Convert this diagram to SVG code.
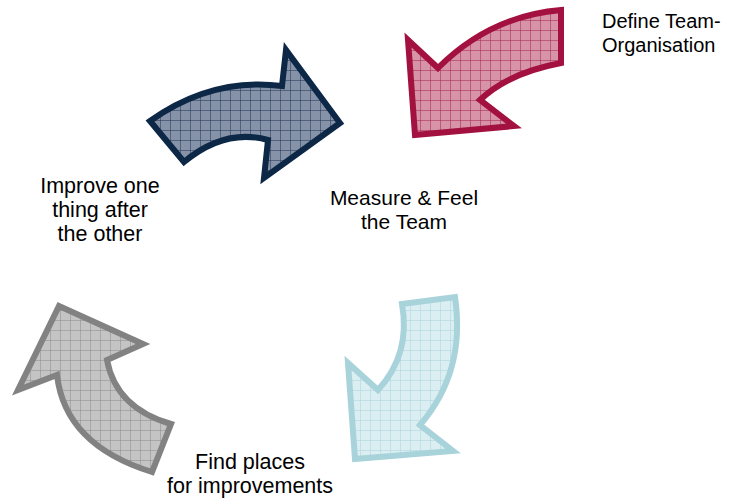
<svg xmlns="http://www.w3.org/2000/svg" width="731" height="502" viewBox="0 0 731 502">
<style>
.lbl{font-family:"Liberation Sans",Arial,sans-serif;font-size:21px;fill:#000}
.ar{stroke-width:6;stroke-linejoin:miter;stroke-miterlimit:10}
</style>
<defs>
<pattern id="pNavy" width="10" height="10" patternUnits="userSpaceOnUse">
<rect width="10" height="10" fill="#8592a7"/>
<path d="M0,0H10M0,0V10" stroke="#1f3352" stroke-width="1"/>
</pattern>
<pattern id="pRed" width="10" height="10" patternUnits="userSpaceOnUse">
<rect width="10" height="10" fill="#d793a8"/>
<path d="M0,0H10M0,0V10" stroke="#a3224f" stroke-width="1"/>
</pattern>
<pattern id="pCyan" width="10" height="10" patternUnits="userSpaceOnUse">
<rect width="10" height="10" fill="#dbeef2"/>
<path d="M0,0H10M0,0V10" stroke="#a9d5dd" stroke-width="1"/>
</pattern>
<pattern id="pGray" width="10" height="10" patternUnits="userSpaceOnUse">
<rect width="10" height="10" fill="#c4c4c4"/>
<path d="M0,0H10M0,0V10" stroke="#8a8a8a" stroke-width="1"/>
</pattern>
</defs>
<rect width="731" height="502" fill="#fff"/>
<g id="connectors">
<path id="arrow-navy" class="ar" fill="url(#pNavy)" stroke="#0d2747" d="M150,121 Q212,77 282,86 L286,50 L340,123 L264,178 L268,140 Q225,128 184,162 Z"/>
<path id="arrow-red" class="ar" fill="url(#pRed)" stroke="#a2113f" d="M561,10 L561,63 Q508,73 480,100 L514,126 L415,135 L408,40 L438,68 Q490,16 561,10 Z"/>
<path id="arrow-cyan" class="ar" fill="url(#pCyan)" stroke="#a8d3db" d="M402,304 L455,297 Q466,372 420,425 L453,451 L355,459 L348,363 L378,390 Q411,354 402,304 Z"/>
<path id="arrow-gray" class="ar" fill="url(#pGray)" stroke="#828282" d="M59,306 L143,344 L107,360 Q116,408 171,424 L152,472 Q65,445 57,375 L18,390 Z"/>
</g>
<g id="node-define">
<text class="lbl" style="font-size:20px"><tspan x="602" y="28">Define Team-</tspan><tspan x="602" y="52">Organisation</tspan></text>
</g>
<g id="node-measure">
<text class="lbl" text-anchor="middle"><tspan x="404" y="205">Measure &amp; Feel</tspan><tspan x="404" y="229">the Team</tspan></text>
</g>
<g id="node-improve">
<text class="lbl" text-anchor="middle" style="font-size:21.5px"><tspan x="100" y="193">Improve one</tspan><tspan x="100" y="217">thing after</tspan><tspan x="100" y="241">the other</tspan></text>
</g>
<g id="node-find">
<text class="lbl" text-anchor="middle" style="font-size:21.5px"><tspan x="250" y="469">Find places</tspan><tspan x="250" y="493">for improvements</tspan></text>
</g>
</svg>
